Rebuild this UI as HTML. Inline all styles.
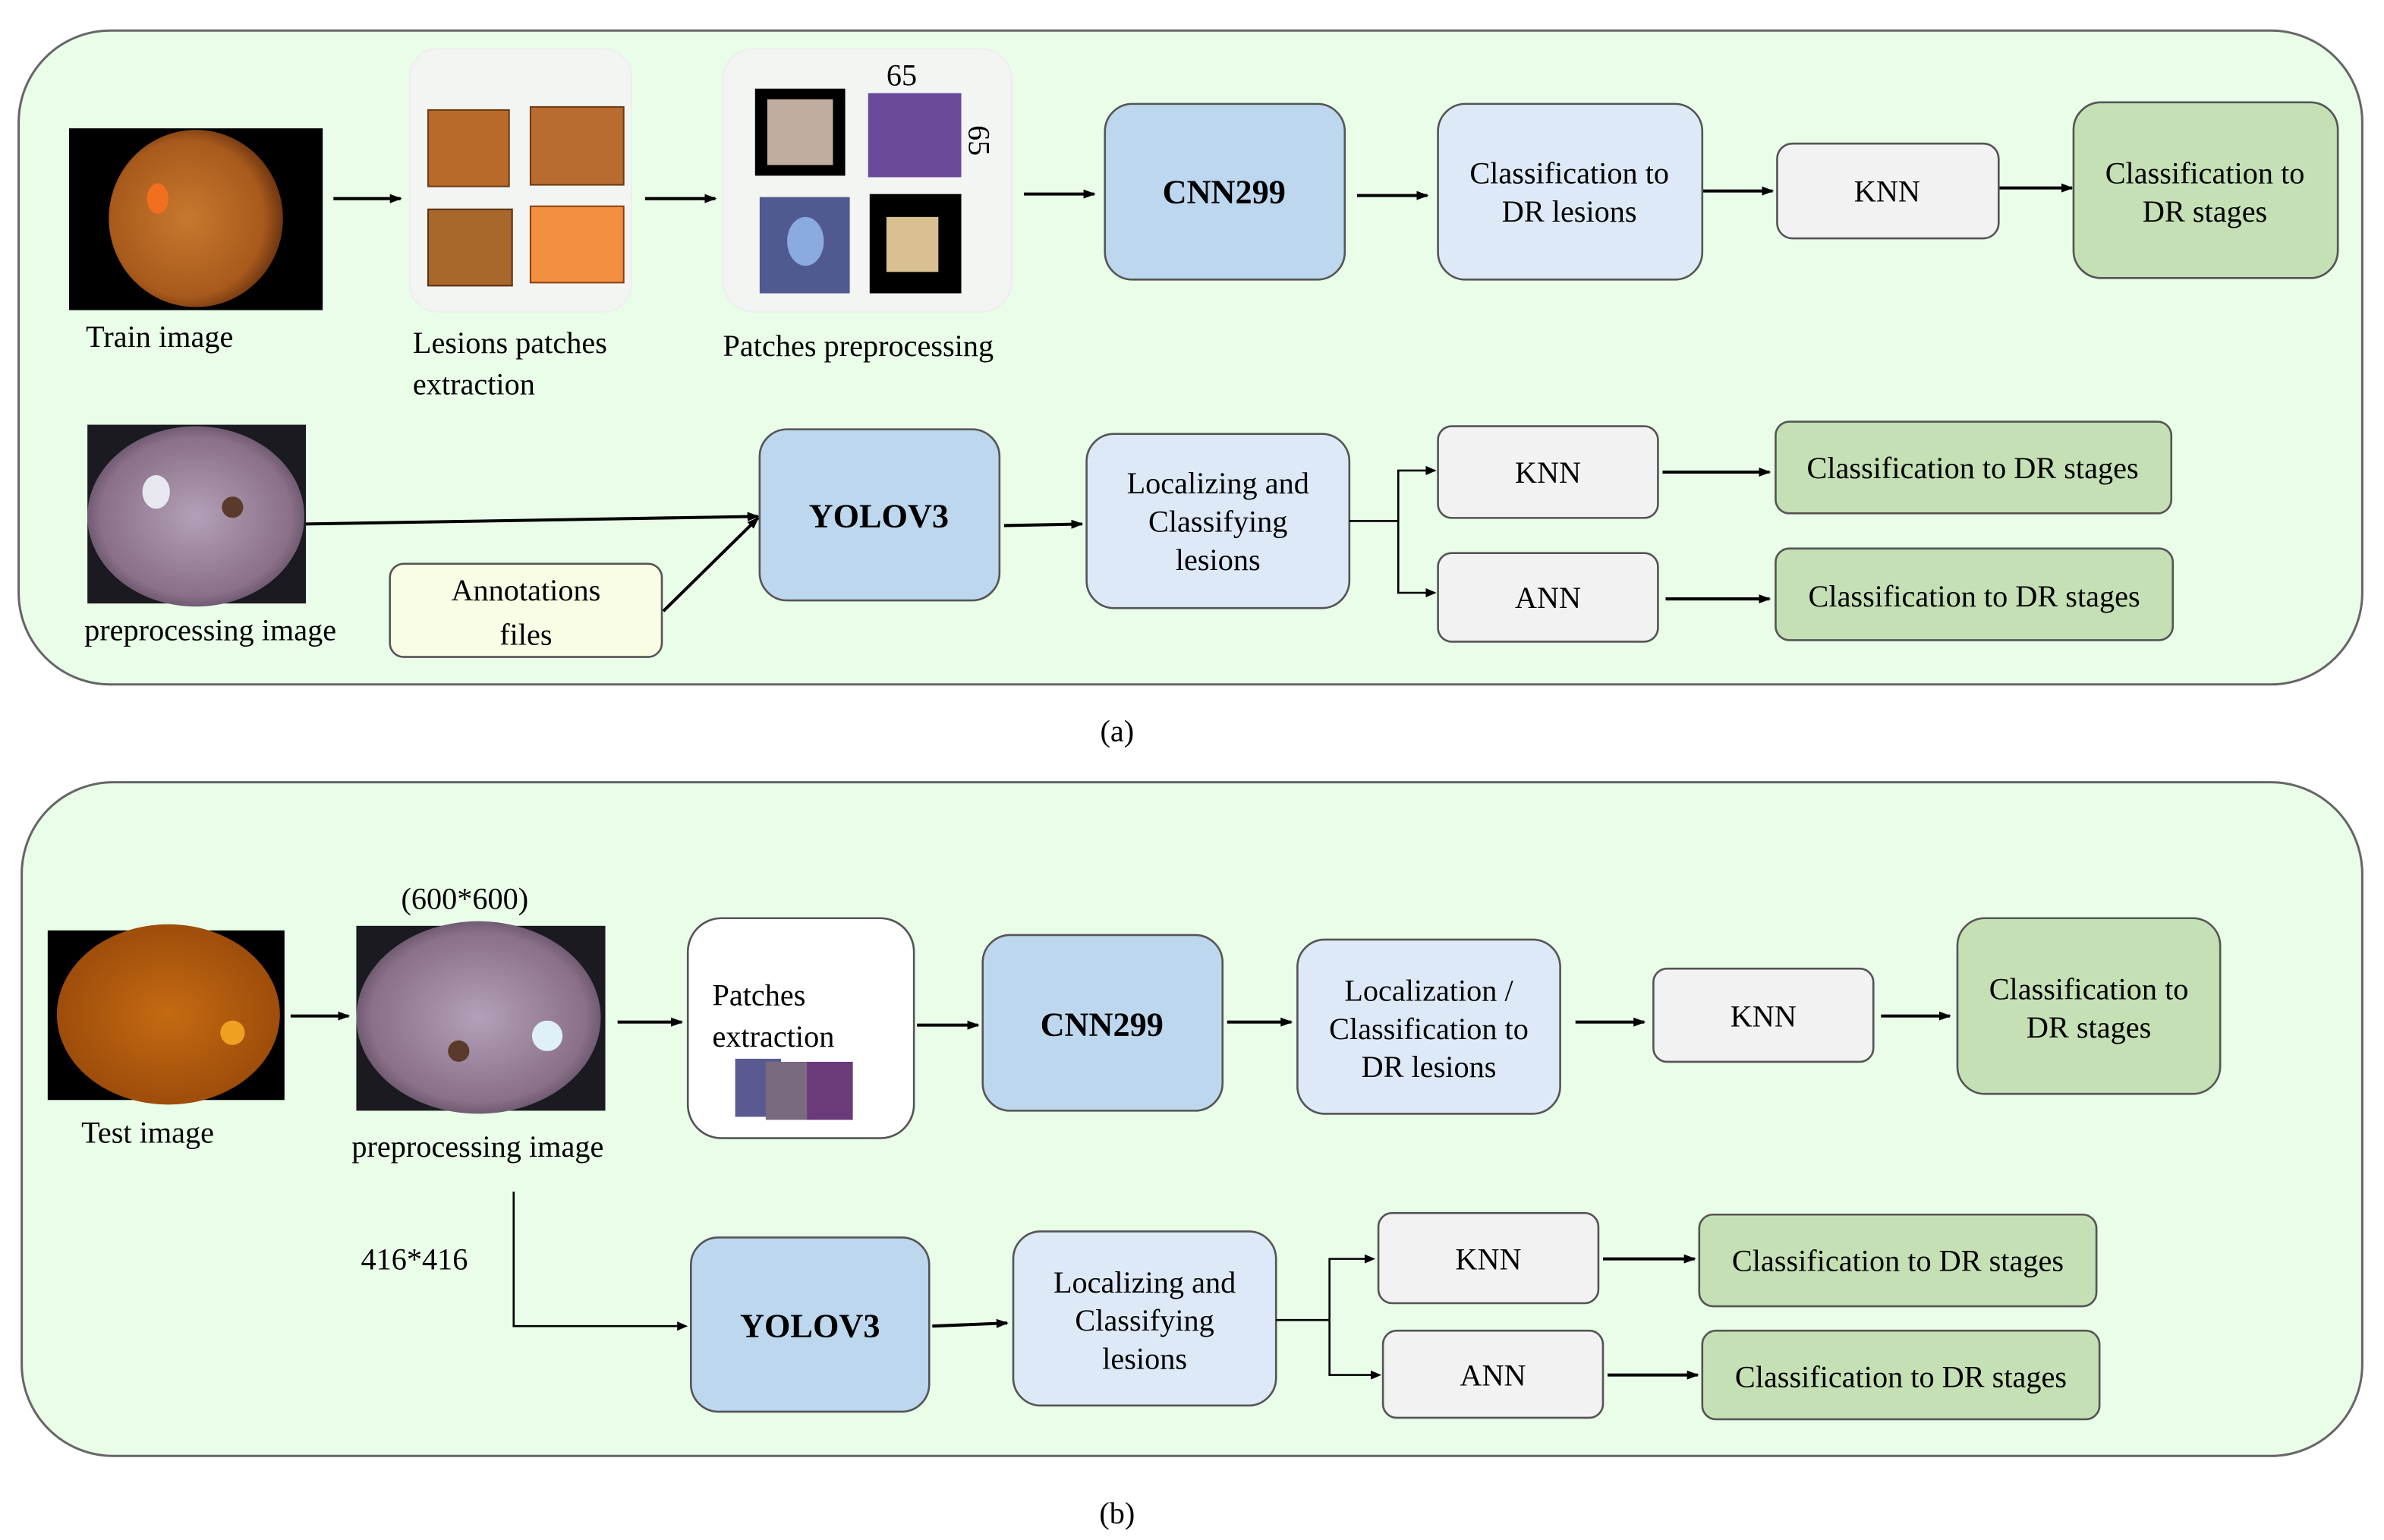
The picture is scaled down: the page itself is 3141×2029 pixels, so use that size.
<!DOCTYPE html>
<html><head><meta charset="utf-8"><style>html,body{margin:0;padding:0;background:#fff}svg{display:block}
svg text{font-family:"Liberation Serif","Times New Roman",serif}</style></head>
<body>
<svg xmlns="http://www.w3.org/2000/svg" width="3141" height="2029" viewBox="0 0 1560 1008" fill="#000">
<defs>
<marker id="ah" markerWidth="8" markerHeight="8" refX="7" refY="4" orient="auto" markerUnits="userSpaceOnUse"><path d="M0,1 L8,4 L0,7 Z" fill="#000"/></marker>
<radialGradient id="org" cx="45%" cy="50%" r="55%"><stop offset="0" stop-color="#c8782e"/><stop offset="0.8" stop-color="#a85a1c"/><stop offset="1" stop-color="#6e3510"/></radialGradient>
<radialGradient id="org2" cx="50%" cy="50%" r="55%"><stop offset="0" stop-color="#c46a12"/><stop offset="1" stop-color="#9a4a0a"/></radialGradient>
<radialGradient id="pur" cx="50%" cy="50%" r="55%"><stop offset="0" stop-color="#b3a0b8"/><stop offset="0.8" stop-color="#8a7088"/><stop offset="1" stop-color="#5a4a60"/></radialGradient>
</defs>
<style>
.t{font-size:20px;text-anchor:middle}
.b{font-size:22px;font-weight:bold;text-anchor:middle}
.l{font-size:20px}
.bx{stroke:#555;stroke-width:1.3}
.ln{stroke:#000;stroke-width:2;fill:none}
.th{stroke:#000;stroke-width:1.3;fill:none}
</style>
<!-- panel a -->
<rect x="12" y="20" width="1534" height="428" rx="60" fill="#e9fde9" stroke="#666" stroke-width="1.5"/>
<rect x="45" y="84" width="166" height="119" fill="#000"/>
<ellipse cx="128" cy="143" rx="57" ry="58" fill="url(#org)"/>
<ellipse cx="103" cy="130" rx="7" ry="10" fill="#f07020"/>
<text class="l" x="56" y="227">Train image</text>
<rect x="268" y="32" width="145" height="172" rx="18" fill="#f3f5f3" stroke="#eee"/>
<rect x="280" y="72" width="53" height="50" fill="#b86a2a" stroke="#6b3a12"/>
<rect x="347" y="70" width="61" height="51" fill="#b96c30" stroke="#6b3a12"/>
<rect x="280" y="137" width="55" height="50" fill="#a8682c" stroke="#5a3010"/>
<rect x="347" y="135" width="61" height="50" fill="#f29040" stroke="#8a4010"/>
<text class="l" x="270" y="231">Lesions patches</text>
<text class="l" x="270" y="258">extraction</text>
<rect x="473" y="32" width="189" height="172" rx="20" fill="#f3f5f3" stroke="#eee"/>
<rect x="494" y="58" width="59" height="57" fill="#000"/>
<rect x="502" y="65" width="43" height="43" fill="#c0aca0"/>
<rect x="568" y="61" width="61" height="55" fill="#6a4a9a"/>
<rect x="497" y="129" width="59" height="63" fill="#505a90"/>
<ellipse cx="527" cy="158" rx="12" ry="16" fill="#8aaae0"/>
<rect x="569" y="127" width="60" height="65" fill="#000"/>
<rect x="580" y="142" width="34" height="36" fill="#d8c090"/>
<text class="t" x="590" y="56">65</text>
<text class="t" x="0" y="0" transform="translate(634,92) rotate(90)">65</text>
<text class="l" x="473" y="233">Patches preprocessing</text>
<line class="ln" x1="218" y1="130" x2="262" y2="130" marker-end="url(#ah)"/>
<line class="ln" x1="422" y1="130" x2="468" y2="130" marker-end="url(#ah)"/>
<line class="ln" x1="670" y1="127" x2="716" y2="127" marker-end="url(#ah)"/>
<line class="ln" x1="888" y1="128" x2="934" y2="128" marker-end="url(#ah)"/>
<line class="ln" x1="1113" y1="125" x2="1160" y2="125" marker-end="url(#ah)"/>
<line class="ln" x1="1308" y1="123" x2="1356" y2="123" marker-end="url(#ah)"/>
<rect class="bx" x="723" y="68" width="157" height="115" rx="18" fill="#bdd7ee"/>
<text class="b" x="801" y="133">CNN299</text>
<rect class="bx" x="941" y="68" width="173" height="115" rx="18" fill="#dde9f7"/>
<text class="t" x="1027" y="120">Classification to</text><text class="t" x="1027" y="145">DR lesions</text>
<rect class="bx" x="1163" y="94" width="145" height="62" rx="10" fill="#f2f2f2"/>
<text class="t" x="1235" y="132">KNN</text>
<rect class="bx" x="1357" y="67" width="173" height="115" rx="18" fill="#c5e0b4"/>
<text class="t" x="1443" y="120">Classification to</text><text class="t" x="1443" y="145">DR stages</text>
<!-- row 2 -->
<rect x="57" y="278" width="143" height="117" fill="#1a1a20"/>
<ellipse cx="128" cy="338" rx="71" ry="59" fill="url(#pur)"/>
<ellipse cx="102" cy="322" rx="9" ry="11" fill="#e8e8f0"/>
<circle cx="152" cy="332" r="7" fill="#5a3a2a"/>
<text class="l" x="55" y="419">preprocessing image</text>
<rect class="bx" x="255" y="369" width="178" height="61" rx="9" fill="#fafde5"/>
<text class="t" x="344" y="393">Annotations</text><text class="t" x="344" y="422">files</text>
<line class="ln" x1="200" y1="343" x2="496" y2="338" marker-end="url(#ah)"/>
<line class="ln" x1="434" y1="400" x2="496" y2="339" marker-end="url(#ah)"/>
<rect class="bx" x="497" y="281" width="157" height="112" rx="18" fill="#bdd7ee"/>
<text class="b" x="575" y="345">YOLOV3</text>
<line class="ln" x1="657" y1="344" x2="708" y2="343" marker-end="url(#ah)"/>
<rect class="bx" x="711" y="284" width="172" height="114" rx="18" fill="#dde9f7"/>
<text class="t" x="797" y="323">Localizing and</text><text class="t" x="797" y="348">Classifying</text><text class="t" x="797" y="373">lesions</text>
<path class="th" d="M883,341 H915 V308 H939 M915,341 V388 H939"/>
<path d="M933,305 L940,308 L933,311Z M933,385 L940,388 L933,391Z"/>
<rect class="bx" x="941" y="279" width="144" height="60" rx="9" fill="#f2f2f2"/>
<text class="t" x="1013" y="316">KNN</text>
<rect class="bx" x="941" y="362" width="144" height="58" rx="9" fill="#f2f2f2"/>
<text class="t" x="1013" y="398">ANN</text>
<line class="ln" x1="1088" y1="309" x2="1158" y2="309" marker-end="url(#ah)"/>
<line class="ln" x1="1090" y1="392" x2="1158" y2="392" marker-end="url(#ah)"/>
<rect class="bx" x="1162" y="276" width="259" height="60" rx="9" fill="#c5e0b4"/>
<text class="t" x="1291" y="313">Classification to DR stages</text>
<rect class="bx" x="1162" y="359" width="260" height="60" rx="9" fill="#c5e0b4"/>
<text class="t" x="1292" y="397">Classification to DR stages</text>
<text class="t" x="731" y="485">(a)</text>

<!-- panel b -->
<rect x="14" y="512" width="1532" height="441" rx="60" fill="#e9fde9" stroke="#666" stroke-width="1.5"/>
<rect x="31" y="609" width="155" height="111" fill="#000"/>
<ellipse cx="110" cy="664" rx="73" ry="59" fill="url(#org2)"/>
<circle cx="152" cy="676" r="8" fill="#f0a020"/>
<text class="l" x="53" y="748">Test image</text>
<text class="t" x="304" y="595">(600*600)</text>
<rect x="233" y="606" width="163" height="121" fill="#1a1a20"/>
<ellipse cx="313" cy="666" rx="80" ry="63" fill="url(#pur)"/>
<circle cx="358" cy="678" r="10" fill="#e0f0f8"/>
<circle cx="300" cy="688" r="7" fill="#5a3a2a"/>
<text class="l" x="230" y="757">preprocessing image</text>
<line class="ln" x1="190" y1="665" x2="228" y2="665" marker-end="url(#ah)"/>
<line class="ln" x1="404" y1="669" x2="446" y2="669" marker-end="url(#ah)"/>
<rect class="bx" x="450" y="601" width="148" height="144" rx="22" fill="#fff"/>
<text class="l" x="466" y="658">Patches</text><text class="l" x="466" y="685">extraction</text>
<rect x="481" y="693" width="30" height="38" fill="#5a5a90"/>
<rect x="501" y="695" width="30" height="38" fill="#7a6a80"/>
<rect x="528" y="695" width="30" height="38" fill="#6a3a7a"/>
<line class="ln" x1="600" y1="671" x2="640" y2="671" marker-end="url(#ah)"/>
<rect class="bx" x="643" y="612" width="157" height="115" rx="18" fill="#bdd7ee"/>
<text class="b" x="721" y="678">CNN299</text>
<line class="ln" x1="803" y1="669" x2="845" y2="669" marker-end="url(#ah)"/>
<rect class="bx" x="849" y="615" width="172" height="114" rx="18" fill="#dde9f7"/>
<text class="t" x="935" y="655">Localization /</text><text class="t" x="935" y="680">Classification to</text><text class="t" x="935" y="705">DR lesions</text>
<line class="ln" x1="1031" y1="669" x2="1076" y2="669" marker-end="url(#ah)"/>
<rect class="bx" x="1082" y="634" width="144" height="61" rx="9" fill="#f2f2f2"/>
<text class="t" x="1154" y="672">KNN</text>
<line class="ln" x1="1231" y1="665" x2="1276" y2="665" marker-end="url(#ah)"/>
<rect class="bx" x="1281" y="601" width="172" height="115" rx="18" fill="#c5e0b4"/>
<text class="t" x="1367" y="654">Classification to</text><text class="t" x="1367" y="679">DR stages</text>
<text class="l" x="236" y="831">416*416</text>
<path class="th" d="M336,780 V868 H446"/>
<path d="M443,865 L450,868 L443,871Z"/>
<rect class="bx" x="452" y="810" width="156" height="114" rx="18" fill="#bdd7ee"/>
<text class="b" x="530" y="875">YOLOV3</text>
<line class="ln" x1="610" y1="868" x2="659" y2="866" marker-end="url(#ah)"/>
<rect class="bx" x="663" y="806" width="172" height="114" rx="18" fill="#dde9f7"/>
<text class="t" x="749" y="846">Localizing and</text><text class="t" x="749" y="871">Classifying</text><text class="t" x="749" y="896">lesions</text>
<path class="th" d="M835,864 H870 V824 H898 M870,864 V900 H902"/>
<path d="M893,821 L900,824 L893,827Z M897,897 L904,900 L897,903Z"/>
<rect class="bx" x="902" y="794" width="144" height="59" rx="9" fill="#f2f2f2"/>
<text class="t" x="974" y="831">KNN</text>
<rect class="bx" x="905" y="871" width="144" height="57" rx="9" fill="#f2f2f2"/>
<text class="t" x="977" y="907">ANN</text>
<line class="ln" x1="1049" y1="824" x2="1109" y2="824" marker-end="url(#ah)"/>
<line class="ln" x1="1052" y1="900" x2="1111" y2="900" marker-end="url(#ah)"/>
<rect class="bx" x="1112" y="795" width="260" height="60" rx="9" fill="#c5e0b4"/>
<text class="t" x="1242" y="832">Classification to DR stages</text>
<rect class="bx" x="1114" y="871" width="260" height="58" rx="9" fill="#c5e0b4"/>
<text class="t" x="1244" y="908">Classification to DR stages</text>
<text class="t" x="731" y="997">(b)</text>
</svg>
</body></html>
